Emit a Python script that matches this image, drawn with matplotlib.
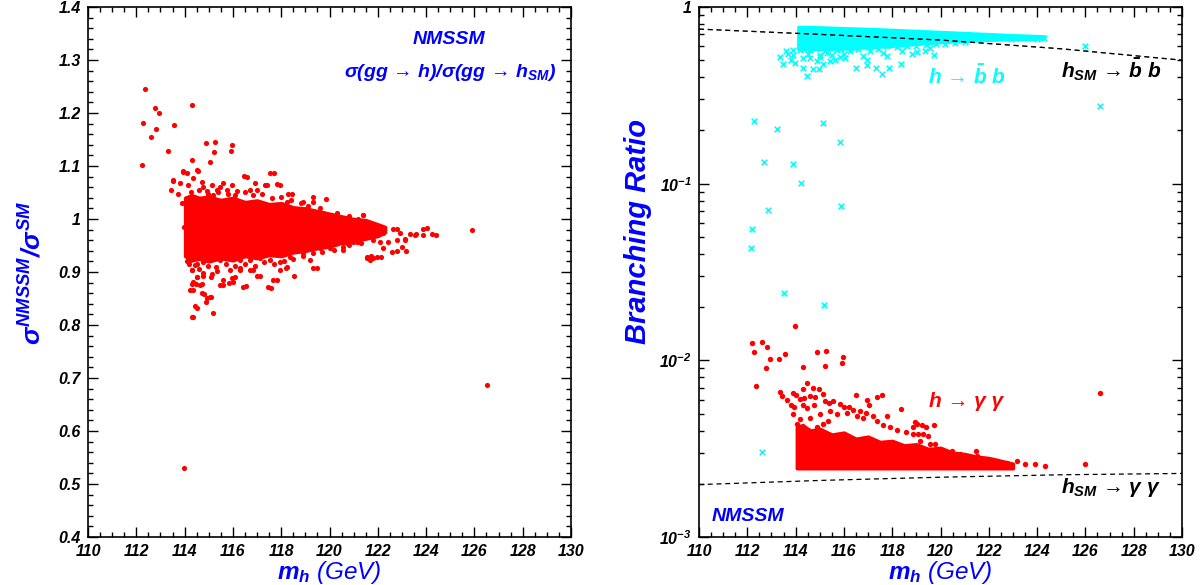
import numpy as np
import matplotlib
matplotlib.use("Agg")
import matplotlib.pyplot as plt
from matplotlib.ticker import MultipleLocator, FuncFormatter, LogLocator, NullFormatter

plt.rcParams['font.family'] = ['Liberation Sans', 'DejaVu Sans']
plt.rcParams['font.weight'] = 'bold'
plt.rcParams['font.style'] = 'italic'
plt.rcParams['mathtext.fontset'] = 'custom'
plt.rcParams['mathtext.rm'] = 'Liberation Sans:bold:italic'
plt.rcParams['mathtext.it'] = 'Liberation Sans:bold:italic'
plt.rcParams['mathtext.bf'] = 'Liberation Sans:bold:italic'

# ---- left panel: sigma ratio, scattered points (m_h, ratio)
ratio_x = [112.36, 112.28, 112.79, 112.95, 112.81, 112.61, 112.23, 113.32, 113.58, 114.30,
           114.88, 115.26, 115.21, 115.97, 115.93, 115.05, 114.30, 113.93, 114.11, 114.57,
           113.43, 113.51, 113.96, 113.98, 126.54, 125.91, 117.70, 116.58, 117.94, 117.41,
           118.45, 119.30, 119.85, 124.43, 124.05, 122.81, 123.18, 122.78, 122.14, 121.82,
           121.72, 123.12, 123.58,
           114.36, 114.30, 114.52, 115.16, 114.88, 115.09, 114.81, 114.33, 114.30, 114.47,
           114.73, 114.52, 114.76, 115.12, 115.09, 115.57, 115.84, 116.53, 117.57, 117.81,
           118.53, 119.50, 115.97, 116.29, 116.85, 117.12, 118.21, 114.31, 114.41,
           113.95, 114.50, 113.53, 113.81, 114.15, 114.36, 114.71, 114.78, 115.12, 115.47,
           115.60, 115.95, 116.46, 116.91, 117.33, 117.54, 117.81, 116.98, 116.71, 116.16,
           115.81, 115.33, 114.91, 115.19, 118.29, 117.54, 118.23, 118.92, 119.33, 119.74,
           120.02, 120.57, 121.40, 113.74, 113.88,
           114.22, 114.50, 114.78, 115.05, 115.47, 115.88, 116.29, 116.71, 117.12, 117.54,
           117.95, 118.36, 118.92, 119.19, 119.60, 120.02, 120.57, 120.57, 121.12, 121.54,
           114.29, 114.50, 114.78, 115.33, 115.60, 115.88, 116.09, 116.29, 116.71, 117.01,
           117.47, 117.67, 117.95, 118.23, 119.33, 114.36, 114.64, 114.22, 114.71, 114.91,
           115.05, 114.43, 115.47, 116.02, 116.43,
           122.64, 122.92, 123.33, 123.54, 123.88, 123.88, 124.23, 122.23, 122.43, 122.09,
           122.23, 122.57, 122.99, 123.13, 122.78, 121.95, 121.54, 121.68, 121.19, 120.99,
           120.71, 120.43, 120.57, 121.40, 121.95, 121.71,
           114.25, 114.60, 114.95, 115.40, 115.75, 116.10, 116.50, 116.85, 117.20, 117.60,
           118.00, 118.40, 118.80, 119.10, 119.60, 120.30, 120.80, 121.20, 114.10, 115.10,
           114.20, 114.60, 114.95, 115.30, 115.70, 116.10, 116.50, 116.90, 117.30, 117.70,
           118.10, 118.50, 118.90, 119.30, 119.70, 120.20, 120.80, 121.30, 121.80, 114.10]
ratio_y = [1.245, 1.181, 1.209, 1.200, 1.169, 1.155, 1.101, 1.128, 1.178, 1.215,
           1.143, 1.145, 1.126, 1.139, 1.128, 1.107, 1.112, 1.091, 1.087, 1.091,
           1.054, 1.072, 0.985, 0.531, 0.686, 0.979, 1.087, 1.079, 1.065, 1.065,
           1.048, 1.041, 1.038, 0.970, 0.983, 0.981, 0.940, 0.939, 0.929, 0.926,
           0.930, 0.963, 0.971,
           0.816, 0.816, 0.833, 0.823, 0.844, 0.852, 0.859, 0.866, 0.878, 0.878,
           0.878, 0.891, 0.892, 0.897, 0.891, 0.875, 0.880, 0.873, 0.870, 0.884,
           0.892, 0.907, 0.889, 0.908, 0.904, 0.893, 0.908, 0.904, 0.913,
           1.089, 1.092, 1.074, 1.067, 1.064, 1.077, 1.070, 1.061, 1.064, 1.061,
           1.067, 1.064, 1.081, 1.067, 1.064, 1.087, 1.066, 1.055, 1.055, 1.052,
           1.048, 1.055, 1.052, 1.045, 1.048, 1.026, 1.033, 1.033, 1.033, 1.011,
           1.004, 0.998, 1.008, 1.048, 1.030,
           0.923, 0.916, 0.919, 0.929, 0.923, 0.926, 0.923, 0.923, 0.926, 0.923,
           0.919, 0.929, 0.935, 0.923, 0.945, 0.945, 0.957, 0.942, 0.957, 0.926,
           0.904, 0.891, 0.898, 0.901, 0.885, 0.904, 0.891, 0.904, 0.904, 0.892,
           0.871, 0.885, 0.904, 0.910, 0.907, 0.882, 0.875, 0.866, 0.860, 0.850,
           0.853, 0.835, 0.875, 0.882, 0.872,
           0.981, 0.973, 0.971, 0.970, 0.982, 0.970, 0.971, 0.973, 0.957, 0.957,
           0.945, 0.938, 0.947, 0.960, 0.960, 0.929, 0.929, 0.923, 0.956, 0.956,
           0.955, 0.957, 0.948, 1.008, 0.979, 0.987,
           1.050, 1.055, 1.048, 1.050, 1.055, 1.045, 1.050, 1.045, 1.048, 1.040,
           1.042, 1.035, 1.030, 1.025, 1.020, 1.012, 1.005, 1.000, 1.040, 1.040,
           0.915, 0.905, 0.912, 0.910, 0.915, 0.912, 0.916, 0.912, 0.918, 0.915,
           0.920, 0.925, 0.930, 0.935, 0.938, 0.942, 0.950, 0.955, 0.960, 0.920]
# envelope of the densely packed core
core_x = [114.02, 114.3, 114.6, 115, 115.5, 116, 116.5, 117, 117.5, 118, 118.5,
          119, 119.5, 120, 120.5, 121, 121.5, 122, 122.3]
core_top = [1.04, 1.045, 1.04, 1.042, 1.036, 1.04, 1.032, 1.035, 1.028, 1.03, 1.022,
            1.02, 1.015, 1.01, 1.005, 1.0, 0.998, 0.99, 0.985]
core_bot = [0.93, 0.922, 0.925, 0.92, 0.926, 0.922, 0.93, 0.926, 0.932, 0.93, 0.937,
            0.94, 0.945, 0.948, 0.955, 0.958, 0.963, 0.968, 0.975]

# ---- right panel: branching ratios
sm_x = [110, 115, 120, 125, 130]
sm_bb = [0.75, 0.70, 0.65, 0.58, 0.50]
sm_gg = [1.98e-3, 2.09e-3, 2.18e-3, 2.25e-3, 2.29e-3]

bb_x = [112.29, 113.24, 115.13, 115.85, 112.70, 113.90, 114.22, 115.89, 112.87, 112.21,
        112.14, 113.51, 115.19, 126.60, 125.98, 112.60, 114.88,
        113.35, 113.46, 113.70, 113.79, 113.97, 113.91, 114.18, 114.32, 114.46, 114.73,
        114.98, 114.60, 114.87, 115.15, 115.42, 115.63, 115.84, 116.04, 116.25, 116.46,
        116.50, 116.94, 116.97, 117.33, 117.56, 117.85, 117.80, 118.36, 119.01, 119.36,
        119.74, 119.56, 117.08, 115.29, 115.70, 114.32, 115.01, 124.30, 124.00, 123.60,
        122.90, 123.30,
        114.3, 114.6, 114.9, 115.2, 115.5, 115.9, 116.2, 116.6, 117.0, 117.4,
        117.8, 118.2, 118.6, 119.0, 119.4, 119.8, 120.2, 120.6, 121.0, 114.5,
        115.0, 115.5, 116.0, 116.8, 117.6, 118.4, 118.8, 114.2, 113.9, 113.6]
bb_y = [0.227, 0.203, 0.221, 0.172, 0.133, 0.129, 0.101, 0.0749, 0.0705, 0.0552,
        0.0430, 0.0239, 0.0207, 0.274, 0.60, 3.04e-3, 3.84e-3,
        0.520, 0.477, 0.543, 0.504, 0.483, 0.538, 0.574, 0.453, 0.407, 0.443,
        0.443, 0.516, 0.493, 0.477, 0.493, 0.504, 0.520, 0.516, 0.561, 0.587,
        0.449, 0.504, 0.469, 0.449, 0.419, 0.449, 0.529, 0.477, 0.557, 0.561,
        0.538, 0.587, 0.561, 0.550, 0.574, 0.516, 0.538, 0.665, 0.655, 0.67,
        0.66, 0.665,
        0.58, 0.57, 0.585, 0.565, 0.59, 0.58, 0.595, 0.575, 0.59, 0.58,
        0.60, 0.59, 0.605, 0.60, 0.61, 0.615, 0.62, 0.625, 0.63, 0.54,
        0.52, 0.535, 0.545, 0.53, 0.55, 0.56, 0.545, 0.60, 0.57, 0.56]
bb_core_x = [114.1, 115, 116, 117, 118, 119, 120, 121, 122, 123, 124.3]
bb_core_top = [0.775, 0.77, 0.762, 0.755, 0.745, 0.735, 0.725, 0.715, 0.705, 0.695, 0.685]
bb_core_bot = [0.575, 0.575, 0.58, 0.59, 0.60, 0.615, 0.63, 0.64, 0.65, 0.655, 0.66]

gg_x = [112.20, 112.27, 112.60, 112.80, 112.92, 112.76, 112.34, 113.31, 113.56, 113.96,
        114.29, 114.88, 115.26, 115.21, 115.94, 115.98, 126.60, 125.99,
        114.49, 114.32, 114.71, 114.97, 115.15, 113.35, 113.43, 113.63, 113.91, 114.02,
        114.18, 114.36, 114.60, 114.80, 116.50, 116.94, 117.38, 117.59, 118.36, 117.77,
        113.82, 113.93, 114.29, 114.46, 114.76, 115.22, 115.40, 115.56, 115.84, 116.00,
        116.22, 116.39, 116.66, 116.91, 117.02, 113.88, 114.18, 114.04, 114.60, 115.01,
        115.43, 115.70, 116.11, 116.53, 116.80, 117.22, 117.35, 117.63, 117.90, 118.18,
        118.59, 118.87, 119.01, 114.25, 114.53, 114.87, 115.15, 115.35,
        118.94, 119.22, 119.40, 119.74, 118.87, 119.08, 119.29, 119.49, 119.15, 119.56,
        119.77, 120.46, 120.81, 121.49, 121.52, 121.29, 121.91, 122.33, 122.74, 123.15,
        123.50, 123.91, 124.33]
gg_y = [0.01256, 0.01112, 0.01267, 0.0119, 0.01014, 0.00904, 0.00717, 0.01019, 0.0109, 0.01557,
        0.00913, 0.01117, 0.01133, 0.00925, 0.00962, 0.0105, 0.00655, 0.00259,
        7.42e-3, 6.90e-3, 6.96e-3, 6.87e-3, 6.44e-3, 6.58e-3, 6.25e-3, 5.98e-3, 6.52e-3, 6.33e-3,
        6.04e-3, 6.11e-3, 6.25e-3, 6.17e-3, 6.33e-3, 5.98e-3, 6.17e-3, 6.33e-3, 5.33e-3, 4.87e-3,
        5.61e-3, 5.42e-3, 5.61e-3, 5.37e-3, 5.61e-3, 5.86e-3, 5.74e-3, 5.86e-3, 5.66e-3, 5.42e-3,
        5.47e-3, 5.24e-3, 5.15e-3, 5.04e-3, 5.61e-3, 4.98e-3, 4.63e-3, 4.35e-3, 4.73e-3, 4.94e-3,
        5.20e-3, 4.98e-3, 5.04e-3, 4.83e-3, 4.73e-3, 4.83e-3, 4.56e-3, 4.28e-3, 4.19e-3, 4.01e-3,
        3.93e-3, 4.19e-3, 4.35e-3, 4.19e-3, 4.01e-3, 4.19e-3, 4.35e-3, 4.56e-3,
        4.49e-3, 4.30e-3, 4.19e-3, 4.30e-3, 3.81e-3, 3.81e-3, 3.81e-3, 3.72e-3, 3.50e-3, 3.35e-3,
        3.35e-3, 3.07e-3, 2.94e-3, 3.05e-3, 2.88e-3, 2.76e-3, 2.64e-3, 2.70e-3, 2.62e-3, 2.70e-3,
        2.59e-3, 2.60e-3, 2.52e-3]
gg_core_x = [114.05, 114.3, 114.6, 115, 115.5, 116, 116.5, 117, 117.5, 118, 118.5, 119,
             119.5, 120, 120.5, 121, 121.5, 122, 122.5, 123]
gg_core_top = [4.2e-3, 4.3e-3, 4.0e-3, 4.1e-3, 3.8e-3, 3.9e-3, 3.6e-3, 3.7e-3, 3.45e-3, 3.5e-3,
               3.3e-3, 3.35e-3, 3.15e-3, 3.2e-3, 3.0e-3, 2.95e-3, 2.85e-3, 2.8e-3, 2.7e-3, 2.6e-3]
gg_core_bot = [2.45e-3] * 20

RED = '#ff0000'
CYAN = '#00ffff'
BLUE = '#0000ff'

fig = plt.figure(figsize=(12.02, 5.85), dpi=100)
ax1 = fig.add_axes([88 / 1202, 1 - 537 / 585, 483 / 1202, 530 / 585])
ax2 = fig.add_axes([699 / 1202, 1 - 537 / 585, 483 / 1202, 530 / 585])


def style(ax):
    ax.tick_params(which='both', direction='in', top=True, right=True, width=1,
                   labelsize=11.5, pad=5)
    ax.tick_params(which='major', length=7)
    ax.tick_params(which='minor', length=3.5)
    ax.xaxis.set_major_locator(MultipleLocator(2))
    ax.xaxis.set_minor_locator(MultipleLocator(0.5))
    for s in ax.spines.values():
        s.set_linewidth(1.2)
    ax.set_xlim(110, 130)
    ax.set_xlabel(r'$m_h$ (GeV)', color=BLUE, fontsize=17.5, labelpad=0)


# left
ax1.fill_between(core_x, core_bot, core_top, color=RED, lw=2.5, ec=RED)
ax1.scatter(ratio_x, ratio_y, s=14, color=RED, lw=0)
ax1.set_ylim(0.4, 1.4)
ax1.yaxis.set_major_locator(MultipleLocator(0.1))
ax1.yaxis.set_minor_locator(MultipleLocator(0.02))
ax1.yaxis.set_major_formatter(FuncFormatter(lambda v, p: '%g' % round(v, 2)))
style(ax1)
ax1.text(124.95, 1.338, 'NMSSM', color=BLUE, fontsize=14, ha='center', va='center')
ax1.text(125.0, 1.276, 'σ(gg → h)/σ(gg → h$_{SM}$)',
         color=BLUE, fontsize=14, ha='center', va='center')
fig.text(33 / 1202, 1 - 273 / 585, r'$\sigma^{NMSSM}/\sigma^{SM}$', color=BLUE,
         fontsize=19, rotation=90, ha='center', va='center')

# right
ax2.set_yscale('log')
ax2.plot(sm_x, sm_bb, 'k--', lw=0.9, dashes=(4, 3))
ax2.plot(sm_x, sm_gg, 'k--', lw=0.9, dashes=(4, 3))
ax2.fill_between(bb_core_x, bb_core_bot, bb_core_top, color=CYAN, lw=2, ec=CYAN)
ax2.scatter(bb_x, bb_y, s=16, marker='x', color=CYAN, lw=1.2)
ax2.fill_between(gg_core_x, gg_core_bot, gg_core_top, color=RED, lw=2.5, ec=RED)
ax2.scatter(gg_x, gg_y, s=15, color=RED, lw=0)
ax2.plot(sm_x, sm_bb, 'k--', lw=0.9, dashes=(4, 3), alpha=0.6)
ax2.set_ylim(1e-3, 1)
ax2.yaxis.set_major_locator(LogLocator(base=10))
ax2.yaxis.set_minor_locator(LogLocator(base=10, subs=np.arange(2, 10)))
ax2.yaxis.set_minor_formatter(NullFormatter())


def logfmt(v, p):
    e = int(round(np.log10(v)))
    if e == 0:
        return '1'
    return r'$10^{%d}$' % e


ax2.yaxis.set_major_formatter(FuncFormatter(logfmt))
style(ax2)
ax2.text(121.1, 0.405, r'h → $\bar{b}$ b', color=CYAN, fontsize=15,
         ha='center', va='center')
ax2.text(127.06, 0.443, r'h$_{SM}$ → $\bar{b}$ b', color='black', fontsize=15,
         ha='center', va='center')
ax2.text(121.06, 5.86e-3, 'h → γ γ', color=RED, fontsize=15,
         ha='center', va='center')
ax2.text(127.06, 1.905e-3, 'h$_{SM}$ → γ γ', color='black', fontsize=15,
         ha='center', va='center')
ax2.text(112.03, 1.31e-3, 'NMSSM', color=BLUE, fontsize=14, ha='center', va='center')
fig.text(638 / 1202, 1 - 232 / 585, 'Branching Ratio', color=BLUE, fontsize=21,
         rotation=90, ha='center', va='center')

fig.savefig('out.png', dpi=100)
